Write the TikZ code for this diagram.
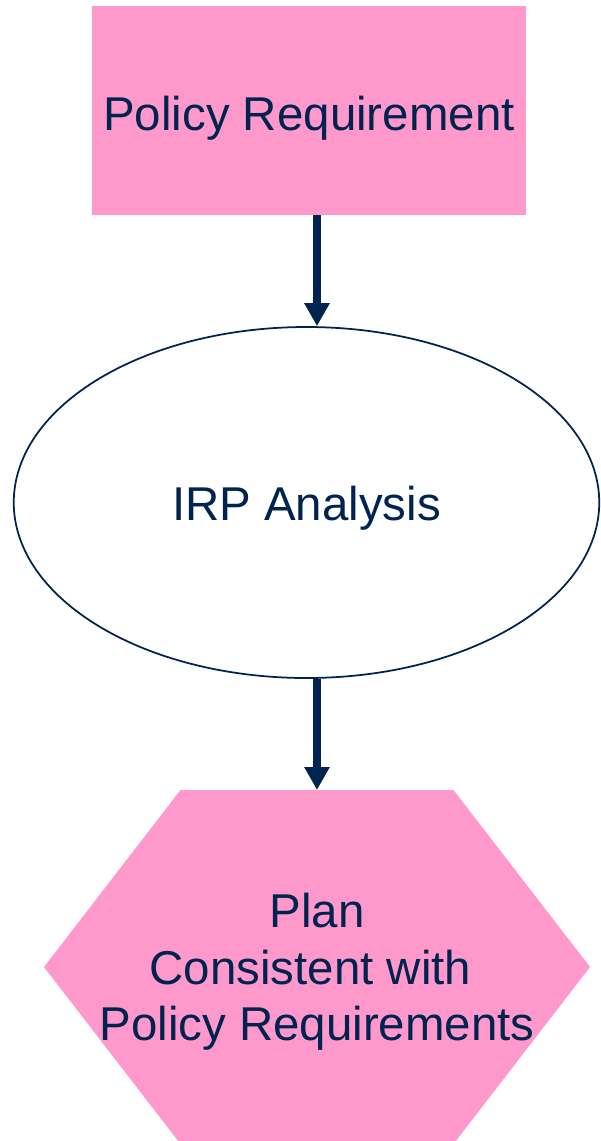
\documentclass[tikz,border=0pt]{standalone}
\usepackage{fontspec}
\setmainfont{Liberation Sans}
\usetikzlibrary{arrows.meta,calc,shapes.geometric}

\definecolor{boxpink}{RGB}{255,153,204}
\definecolor{navy}{RGB}{0,35,80}

\tikzset{
  label font/.style={font=\fontsize{27pt}{32.2pt}\selectfont, text=navy},
  pinkbox/.style={rectangle, fill=boxpink, inner sep=0pt, label font,
    minimum width=8.68cm, minimum height=4.18cm, text height=0.8cm, text depth=0pt},
  oval/.style={ellipse, draw=navy, line width=1pt, inner sep=0pt, label font,
    minimum width=11.71cm, minimum height=7.02cm, text height=0.7cm, text depth=0pt},
  flow/.style={draw=navy, line width=0.16cm,
    -{Triangle[width=0.48cm, length=0.46cm]}},
}

\begin{document}
\begin{tikzpicture}
  \useasboundingbox (0,0) rectangle (12,-22.82);

  % top requirement box
  \node[pinkbox] (policy) at (6.18,-2.21) {Policy Requirement};

  % analysis step
  \node[oval] (irp) at (6.13,-10.05) {IRP Analysis};

  % resulting plan: flattened hexagon
  \coordinate (hexc) at (6.34,-19.34);
  \coordinate (hextop) at ($(hexc)+(0,3.54)$);
  \fill[boxpink] ($(hexc)+(-5.46,0)$) -- ($(hexc)+(-2.73,3.54)$)
    -- ($(hexc)+(2.73,3.54)$) -- ($(hexc)+(5.46,0)$)
    -- ($(hexc)+(2.73,-3.54)$) -- ($(hexc)+(-2.73,-3.54)$) -- cycle;
  \node[label font, align=center, inner sep=0pt] (plan) at ($(hexc)+(0,-0.1)$)
    {Plan\\Consistent with\hphantom{ }\\Policy Requirements};

  % connectors
  \draw[flow] (policy.south -| hexc) -- (irp.north -| hexc);
  \draw[flow] (irp.south -| hexc) -- (hextop);
\end{tikzpicture}
\end{document}
